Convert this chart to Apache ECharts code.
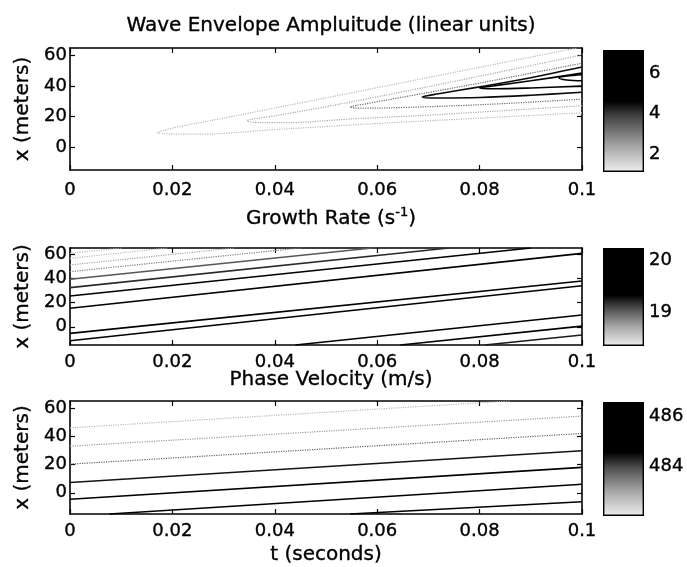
<!DOCTYPE html>
<html><head><meta charset="utf-8">
<script src="https://cdn.jsdelivr.net/npm/echarts@6/dist/echarts.min.js"></script>
<style>html,body{margin:0;padding:0;background:#fff}#c{width:687px;height:567px}</style>
</head><body><div id="c"></div>
<script>
// ---------------- data ----------------
const tRange = [0, 0.1];
const tStep = 0.02;
const xRange = [-15, 65];
const yTickValues = [0, 20, 40, 60];

// Panel 1: wave envelope amplitude contours (t, x)
const ampRange = [1.1, 7.15];
const ampTicks = [2, 4, 6];
const ampLevels = [1.3, 2.3, 3.3, 4.5, 5.5, 6.5];
const ampContours = [
  [[0.1,22.5],[0.08,19],[0.06,15.5],[0.04,11.5],[0.025,8.5],[0.017,9.5],[0.02,12.5],[0.03,19],[0.045,29],[0.06,39],[0.075,49],[0.09,59],[0.099,65]],
  [[0.1,27.2],[0.085,24],[0.07,21],[0.055,18.5],[0.042,16],[0.0355,16.3],[0.0346,17.2],[0.04,20.5],[0.05,26.5],[0.063,35],[0.08,46.5],[0.1,60.5]],
  [[0.1,31.5],[0.09,29.5],[0.078,27.5],[0.065,26],[0.057,25.5],[0.0547,26.3],[0.058,28.5],[0.067,34],[0.08,42],[0.1,55]],
  [[0.1,36],[0.09,34],[0.08,32.5],[0.072,32.2],[0.0688,32.9],[0.072,35],[0.08,39.5],[0.09,45.5],[0.1,52.5]],
  [[0.1,40],[0.09,38.8],[0.083,38.3],[0.080,38.8],[0.083,40.3],[0.09,43.5],[0.1,48.5]],
  [[0.1,43.5],[0.097,44],[0.0955,45.3],[0.097,46.6],[0.1,47.5]]
];

// Panel 2: growth rate contours
const growthRange = [18.37, 20.23];
const growthTicks = [19, 20];
const growthLevels = [18.5, 18.6, 18.75, 18.9, 19.05, 19.2, 19.4, 19.6, 19.9, 19.9, 19.7, 19.5, 19.25];
const growthContours = [
  [[0,60.6],[0.010,65]],
  [[0,56.5],[0.019,65]],
  [[0,51],[0.032,65]],
  [[0,45.5],[0.045,65]],
  [[0,39.2],[0.059,65]],
  [[0,32.3],[0.074,65]],
  [[0,25.4],[0.09,65]],
  [[0,15.3],[0.1,60.6]],
  [[0,-5.4],[0.1,37.8]],
  [[0,-11.5],[0.1,33.9]],
  [[0.044,-15],[0.1,9.7]],
  [[0.0645,-15],[0.1,0.6]],
  [[0.081,-15],[0.1,-6.7]]
];

// Panel 3: phase velocity contours
const phaseRange = [481.96, 486.6];
const phaseTicks = [484, 486];
const phaseLevels = [482.5, 483.1, 483.7, 484.4, 485.0, 485.6, 486.2];
const phaseContours = [
  [[0,46],[0.086,65]],
  [[0,33],[0.1,54.3]],
  [[0,20.3],[0.1,42]],
  [[0,7.3],[0.1,29.8]],
  [[0,-4.6],[0.1,18]],
  [[0.0077,-15],[0.1,6.1]],
  [[0.0547,-15],[0.1,-6.3]]
];

const titles = ['Wave Envelope Ampluitude (linear units)', 'Growth Rate (s{sup|-1})', 'Phase Velocity (m/s)'];
const yName = 'x (meters)';
const xName = 't (seconds)';

// ---------------- layout / style ----------------
const FONT = '"DejaVu Sans", Verdana, sans-serif';
const FS = 18;
const TFS = 20;
const BOLD = {textBorderColor: '#000', textBorderWidth: 0.35};
const panels = [
  {range: ampRange, ticks: ampTicks, levels: ampLevels, lines: ampContours, smooth: 0.35,
   top: 48, height: 122, cbTop: 50, cbHeight: 122, lblMargin: 11, titleTop: 8,
   stops: [[0,0],[0.42,0],[0.55,70],[0.75,150],[0.9,205],[1,238]]},
  {range: growthRange, ticks: growthTicks, levels: growthLevels, lines: growthContours, smooth: 0,
   top: 248, height: 97, cbTop: 248, cbHeight: 98, lblMargin: 8, titleTop: 201,
   stops: [[0,0],[0.48,0],[0.62,80],[0.8,165],[1,238]]},
  {range: phaseRange, ticks: phaseTicks, levels: phaseLevels, lines: phaseContours, smooth: 0,
   top: 401, height: 113, cbTop: 402, cbHeight: 114, lblMargin: 8, titleTop: 362,
   stops: [[0,0],[0.44,0],[0.58,80],[0.78,165],[1,238]]}
];
const PLOT_LEFT = 70, PLOT_RIGHT = 582, CB_LEFT = 603, CB_RIGHT = 644, W = 687;

function grayAt(stops, f) {
  f = Math.max(0, Math.min(1, f));
  for (let i = 1; i < stops.length; i++) {
    if (f <= stops[i][0]) {
      const a = stops[i-1], b = stops[i];
      const u = (f - a[0]) / (b[0] - a[0] || 1);
      return Math.round(a[1] + u * (b[1] - a[1]));
    }
  }
  return stops[stops.length-1][1];
}

const grid = [], xAxis = [], yAxis = [], series = [], title = [];
const tickStyle = {color: '#000', width: 1.2};
panels.forEach((p, i) => {
  const gi = grid.length;
  grid.push({left: PLOT_LEFT, right: W - PLOT_RIGHT, top: p.top, height: p.height});
  grid.push({left: CB_LEFT, right: W - CB_RIGHT, top: p.cbTop, height: p.cbHeight});
  const axLine = {show: true, onZero: false, lineStyle: {color: '#000', width: 1.6}};
  const xi = xAxis.length, yi = yAxis.length;
  xAxis.push({type: 'value', gridIndex: gi, position: 'bottom', min: tRange[0], max: tRange[1], interval: tStep,
    axisLine: axLine, splitLine: {show: false},
    axisTick: {show: true, inside: true, length: 5, lineStyle: tickStyle},
    axisLabel: Object.assign({show: true, margin: p.lblMargin, color: '#000', fontSize: FS, fontFamily: FONT}, BOLD),
    name: i === 2 ? xName : '', nameLocation: 'middle', nameGap: 31,
    nameTextStyle: Object.assign({color: '#000', fontSize: TFS, fontFamily: FONT}, BOLD)});
  xAxis.push({type: 'value', gridIndex: gi, position: 'top', min: tRange[0], max: tRange[1], interval: tStep,
    axisLine: axLine, splitLine: {show: false},
    axisTick: {show: true, inside: true, length: 5, lineStyle: tickStyle},
    axisLabel: {show: false}});
  yAxis.push({type: 'value', gridIndex: gi, position: 'left', min: xRange[0], max: xRange[1],
    axisLine: axLine, splitLine: {show: false},
    axisTick: {show: true, inside: true, length: 5, customValues: yTickValues, lineStyle: tickStyle},
    axisLabel: Object.assign({show: true, margin: 3, customValues: yTickValues, color: '#000', fontSize: FS, fontFamily: FONT}, BOLD),
    name: yName, nameLocation: 'middle', nameGap: 36, nameRotate: 90,
    nameTextStyle: Object.assign({color: '#000', fontSize: TFS, fontFamily: FONT}, BOLD)});
  yAxis.push({type: 'value', gridIndex: gi, position: 'right', min: xRange[0], max: xRange[1],
    axisLine: axLine, splitLine: {show: false},
    axisTick: {show: true, inside: true, length: 5, customValues: yTickValues, lineStyle: tickStyle},
    axisLabel: {show: false}});
  // colorbar axes
  const cxi = xAxis.length, cyi = yAxis.length;
  xAxis.push({type: 'category', gridIndex: gi + 1, data: ['c'], show: false});
  yAxis.push({type: 'value', gridIndex: gi + 1, position: 'right', min: p.range[0], max: p.range[1],
    axisLine: {show: false}, splitLine: {show: false}, axisTick: {show: false},
    axisLabel: Object.assign({show: true, margin: 5, customValues: p.ticks, color: '#000', fontSize: FS, fontFamily: FONT}, BOLD)});

  // contour lines
  const span = p.range[1] - p.range[0];
  p.lines.forEach((pts, k) => {
    const g = grayAt(p.stops, (p.range[1] - p.levels[k]) / span);
    const c = Math.min(g, 185);
    series.push({type: 'line', xAxisIndex: xi, yAxisIndex: yi, data: pts, showSymbol: false, symbol: 'none',
      smooth: p.smooth, silent: true, animation: false, clip: true,
      lineStyle: {color: `rgb(${c},${c},${c})`, width: g > 90 ? 1.2 : 1.6, type: g > 90 ? 'dotted' : 'solid'}});
  });
  // colorbar (stacked bars: invisible base + gradient body)
  const grad = {type: 'linear', x: 0, y: 0, x2: 0, y2: 1,
    colorStops: p.stops.map(s => ({offset: s[0], color: `rgb(${s[1]},${s[1]},${s[1]})`}))};
  series.push({type: 'bar', xAxisIndex: cxi, yAxisIndex: cyi, stack: 'cb' + i, data: [p.range[0]],
    barWidth: '100%', itemStyle: {color: 'rgba(0,0,0,0)'}, silent: true, animation: false});
  series.push({type: 'bar', xAxisIndex: cxi, yAxisIndex: cyi, stack: 'cb' + i, data: [span],
    barWidth: '100%', itemStyle: {color: grad, borderColor: '#000', borderWidth: 1.4}, silent: true, animation: false});

  title.push({text: titles[i], left: (PLOT_LEFT + PLOT_RIGHT) / 2, top: p.titleTop, textAlign: 'center',
    textStyle: Object.assign({color: '#000', fontSize: TFS, fontWeight: 'normal', fontFamily: FONT, lineHeight: 26,
      rich: {sup: Object.assign({fontSize: 13, fontFamily: FONT, color: '#000', verticalAlign: 'top', lineHeight: 13}, BOLD)}}, BOLD)});
});

const chart = echarts.init(document.getElementById('c'), null, {renderer: 'canvas'});
chart.setOption({backgroundColor: '#fff', animation: false, title, grid, xAxis, yAxis, series});
</script></body></html>
